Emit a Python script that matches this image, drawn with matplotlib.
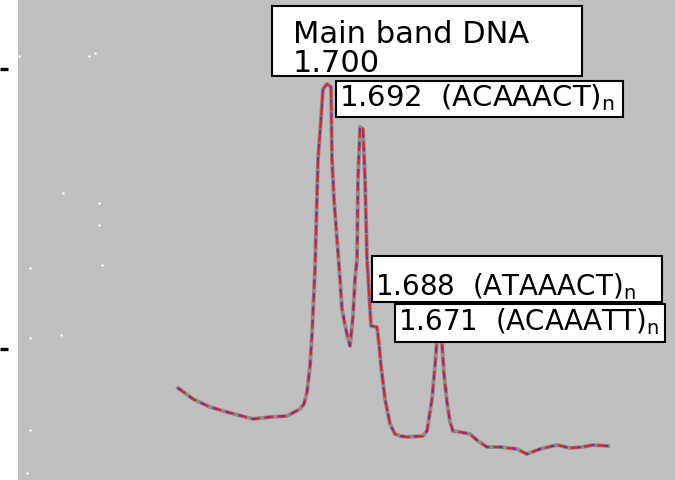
import matplotlib.pyplot as plt
from matplotlib.patches import Rectangle

# density gradient trace (position across gradient, relative absorbance)
position = [178, 193, 210, 227, 253, 270, 287, 300, 304, 307, 310, 312, 315, 318,
            321, 323, 327, 331, 332, 334, 337, 340, 342, 346, 350, 353, 355, 357,
            358, 360, 363, 365, 367, 370, 371, 377, 379, 381, 385, 390, 395, 400,
            407, 423, 427, 432, 435, 437, 440, 442, 444, 447, 450, 453, 460, 470,
            478, 487, 500, 517, 527, 540, 557, 570, 582, 593, 608]
absorbance = [92, 81, 73, 68, 61, 63, 64, 71, 76, 88, 114, 146, 211, 321,
              361, 391, 396, 393, 321, 281, 241, 201, 171, 150, 134, 164, 201, 221,
              301, 353, 351, 301, 221, 171, 154, 153, 136, 114, 81, 56, 46, 44,
              43, 44, 49, 81, 114, 141, 151, 136, 106, 78, 58, 49, 48, 46,
              39, 33, 33, 31, 26, 31, 35, 32, 33, 35, 34]

# labelled bands
band_labels = ["Main band DNA\n1.700",
               "1.692  (ACAAACT)$_{\\mathregular{n}}$",
               "1.688  (ATAAACT)$_{\\mathregular{n}}$",
               "1.671  (ACAAATT)$_{\\mathregular{n}}$"]
label_boxes = [(272, 404, 310, 70), (336, 363, 287, 36),
               (372, 178, 290, 46), (395, 138, 270, 38)]
label_text_xy = [(293, 409), (339, 375), (375, 186), (398, 151)]
label_sizes = [22, 21, 20, 20]

# stray white specks on the gel background
speck_x = [19, 89, 95, 63, 99, 99, 30, 102, 30, 61, 30, 27]
speck_y = [424, 424, 427, 287, 277, 255, 212, 215, 142, 145, 50, 7]

fig = plt.figure(figsize=(6.75, 4.81), dpi=100)
ax = fig.add_axes([0, 0, 1, 1])
ax.set_facecolor('#c0c0c0')
ax.set_xlim(0, 675)
ax.set_ylim(0, 481)
for s in ax.spines.values():
    s.set_visible(False)

ax.add_patch(Rectangle((0, 0), 18, 481, facecolor='white', edgecolor='none', zorder=1))
ax.scatter(speck_x, speck_y, s=3, color='white', zorder=1.5, linewidths=0)

ax.plot(position, absorbance, color='#8c8c8c', lw=2.8, zorder=2)
ax.plot(position, absorbance, color='#e8202a', lw=1.6, dashes=(4, 2), zorder=2.1)
ax.plot(position, absorbance, color='#7a2ea0', lw=1.4, dashes=(2, 5), zorder=2.2)

ax.set_xticks([])
ax.set_yticks([131, 411])
ax.tick_params(axis='y', direction='in', length=6, width=2.4, color='black',
               labelleft=False)

for (bx, by, bw, bh), (tx, ty), lab, fs in zip(label_boxes, label_text_xy,
                                               band_labels, label_sizes):
    ax.add_patch(Rectangle((bx, by), bw, bh, facecolor='white', edgecolor='black',
                           lw=1.5, zorder=3))
    ax.text(tx, ty, lab, fontsize=fs, color='black', ha='left', va='baseline',
            linespacing=1.0, zorder=4)

fig.savefig('out.png', dpi=100)
